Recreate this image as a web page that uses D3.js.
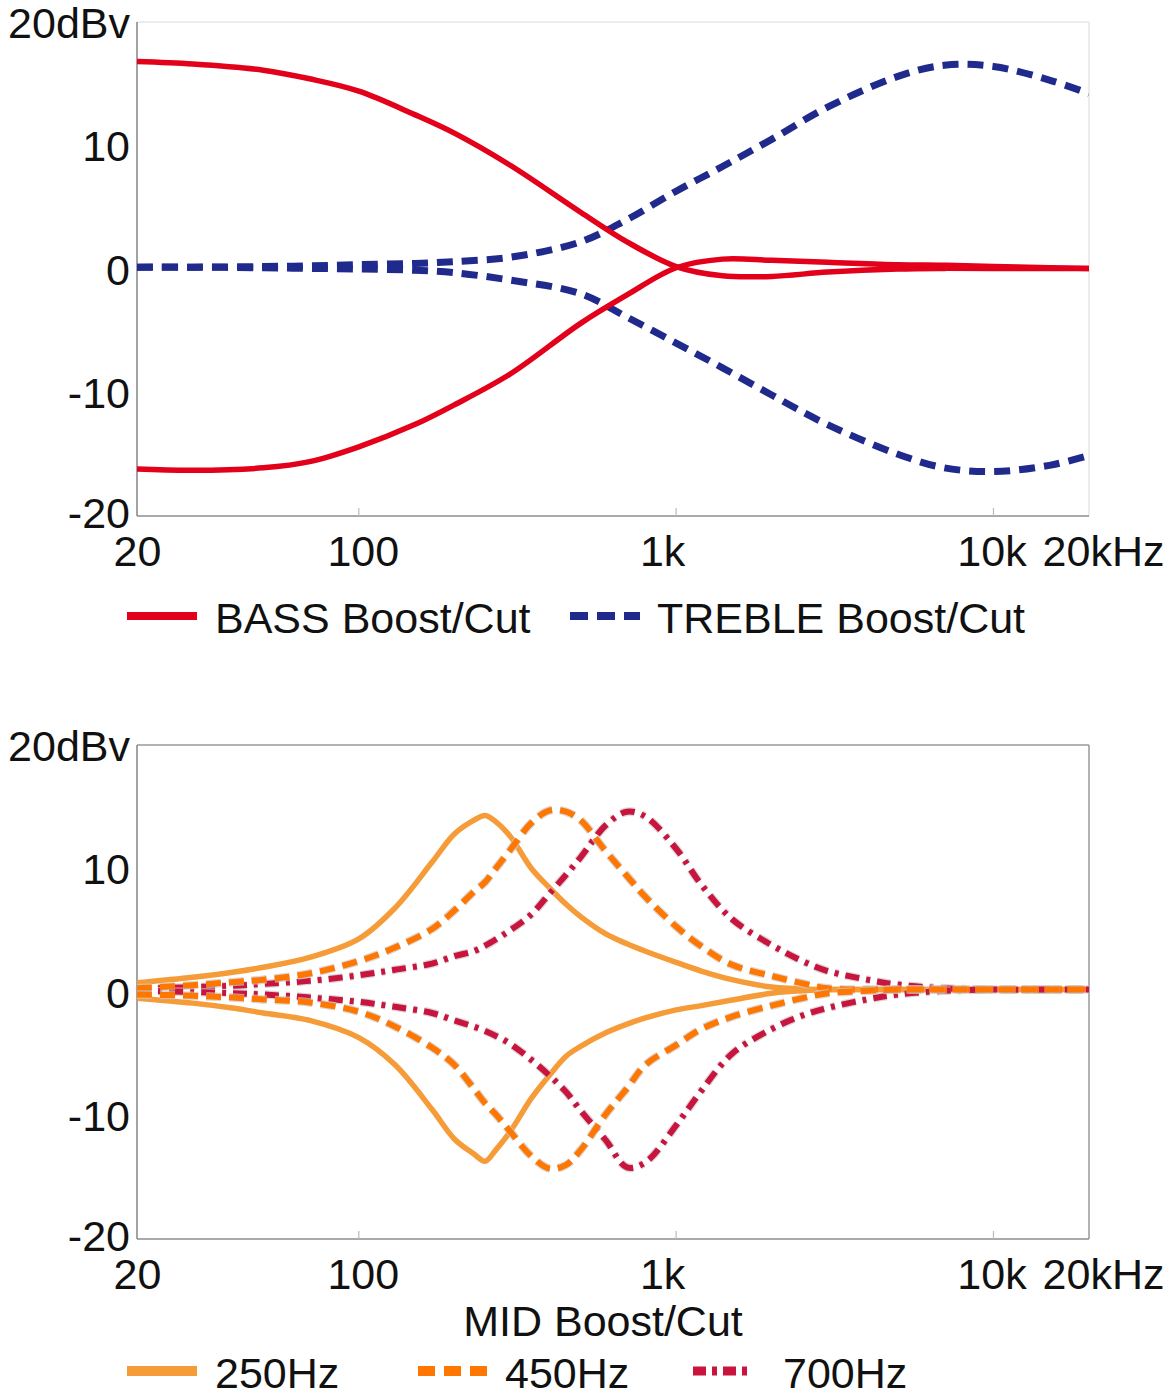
<!DOCTYPE html>
<html>
<head>
<meta charset="utf-8">
<script src="https://cdn.jsdelivr.net/npm/d3@7"></script>
<style>
  body { margin: 0; background: #fff; }
  text { font-family: "Liberation Sans", Arial, Helvetica, sans-serif; fill: #111; }
</style>
</head>
<body>
<svg id="chart" width="1165" height="1400"></svg>
<script>
// axis ticks
let dbTicks = [20, 10, 0, -10, -20];
let dbLabels = ['20dBv', '10', '0', '-10', '-20'];
let hzTicks = [20, 100, 1000, 10000, 20000];
let hzLabels = ['20', '100', '1k', '10k', '20kHz'];

// top panel: bass / treble (dB vs Hz)
let toneFreq = [20, 30, 50, 70, 100, 150, 200, 300, 500, 700, 1000, 1400, 2000, 3000, 5000, 7000, 10000, 15000, 20000];
let bassBoost = [16.8, 16.6, 16.1, 15.4, 14.4, 12.5, 11.0, 8.4, 4.6, 2.2, 0.2, -0.55, -0.6, -0.25, 0.0, 0.05, 0.05, 0.05, 0.05];
let bassCut = [-16.2, -16.3, -16.1, -15.6, -14.4, -12.6, -11.0, -8.5, -4.4, -2.1, 0.1, 0.8, 0.7, 0.55, 0.35, 0.3, 0.2, 0.1, 0.05];
let trebleBoost = [0.15, 0.15, 0.2, 0.25, 0.35, 0.45, 0.6, 0.95, 2.2, 4.0, 6.3, 8.3, 10.5, 13.1, 15.6, 16.5, 16.4, 15.3, 14.2];
let trebleCut = [0.15, 0.15, 0.1, 0.05, 0, -0.1, -0.3, -0.9, -2.0, -3.9, -6.0, -8.0, -10.2, -12.6, -15.0, -16.1, -16.4, -15.9, -15.1];

// bottom panel: mid boost / cut at 250, 450, 700 Hz
let midFreq = [20, 30, 40, 50, 70, 100, 130, 170, 200, 230, 250, 270, 300, 350, 400, 450, 500, 600, 700, 800, 1000, 1200, 1500, 2000, 2500, 3000, 4000, 5000, 7000, 10000, 20000];
let mid250Boost = [0.75, 1.2, 1.6, 2.0, 2.8, 4.3, 6.8, 10.5, 12.8, 13.9, 14.3, 13.8, 12.6, 10.0, 8.4, 7.1, 6.1, 4.7, 3.9, 3.3, 2.4, 1.7, 1.0, 0.4, 0.25, 0.2, 0.2, 0.2, 0.2, 0.2, 0.2];
let mid250Cut = [-0.5, -0.9, -1.3, -1.7, -2.3, -3.7, -5.9, -9.5, -11.9, -13.1, -13.7, -12.8, -11.3, -8.6, -6.7, -5.2, -4.4, -3.3, -2.6, -2.1, -1.45, -1.1, -0.65, -0.1, 0.1, 0.2, 0.2, 0.2, 0.2, 0.2, 0.2];
let mid450Boost = [0.3, 0.55, 0.8, 1.0, 1.5, 2.5, 3.6, 5.1, 6.6, 8.1, 8.9, 10.0, 11.5, 13.7, 14.7, 14.6, 13.9, 11.4, 9.4, 7.7, 5.3, 3.7, 2.2, 1.3, 0.7, 0.3, 0.2, 0.2, 0.2, 0.2, 0.2];
let mid450Cut = [-0.2, -0.3, -0.45, -0.6, -0.85, -1.6, -2.8, -4.5, -5.9, -7.8, -9.0, -9.9, -11.3, -13.3, -14.3, -14.0, -12.8, -9.9, -7.8, -5.9, -4.3, -3.0, -2.0, -1.1, -0.5, -0.1, 0.1, 0.2, 0.2, 0.2, 0.2];
let mid700Boost = [0.25, 0.4, 0.5, 0.65, 0.9, 1.35, 1.8, 2.3, 2.9, 3.3, 3.75, 4.25, 5.0, 6.3, 8.0, 9.5, 10.9, 13.5, 14.6, 14.2, 11.6, 8.7, 5.9, 3.8, 2.5, 1.7, 1.0, 0.6, 0.3, 0.2, 0.2];
let mid700Cut = [0.1, 0, -0.1, -0.2, -0.45, -0.8, -1.2, -1.7, -2.3, -2.8, -3.15, -3.55, -4.2, -5.5, -6.8, -8.1, -9.6, -12.0, -14.2, -13.8, -10.8, -8.0, -5.0, -3.0, -1.9, -1.3, -0.6, -0.2, 0.1, 0.2, 0.2];

const svg = d3.select('#chart');
const plotL = 137, plotR = 1089, plotH = 494;
const x = d3.scaleLog().domain([20, 20000]).range([plotL, plotR]);
let hzShift = [0, 4, -14, -2, 14];
let dbShift = [0, 0, 0, 0, -4];

function drawPanel(id, top, frameTop, series, freq) {
	let y = d3.scaleLinear().domain([-20, 20]).range([top + plotH, top]);
	let g = svg.append('g');

	g.append('clipPath').attr('id', id)
		.append('rect').attr('x', plotL).attr('y', top).attr('width', plotR - plotL).attr('height', plotH);

	// frame
	g.append('line').attr('x1', plotL).attr('x2', plotR).attr('y1', top).attr('y2', top)
		.attr('stroke', frameTop).attr('stroke-width', 1.5);
	g.append('line').attr('x1', plotR).attr('x2', plotR).attr('y1', top).attr('y2', top + plotH)
		.attr('stroke', frameTop).attr('stroke-width', 1.5);
	g.append('line').attr('x1', plotL).attr('x2', plotL).attr('y1', top).attr('y2', top + plotH)
		.attr('stroke', '#8c8c8c').attr('stroke-width', 1.6);
	g.append('line').attr('x1', plotL).attr('x2', plotR).attr('y1', top + plotH).attr('y2', top + plotH)
		.attr('stroke', '#8c8c8c').attr('stroke-width', 1.6);

	// small inner ticks at the decades
	g.selectAll('.dtick').data([100, 1000, 10000]).enter().append('line')
		.attr('x1', d => x(d)).attr('x2', d => x(d))
		.attr('y1', top + plotH).attr('y2', top + plotH - 8)
		.attr('stroke', '#bbb').attr('stroke-width', 1.2);

	let yAxis = g.append('g').attr('transform', `translate(${plotL},0)`)
		.call(d3.axisLeft(y).tickValues(dbTicks).tickFormat((d, i) => dbLabels[i]).tickSize(0).tickPadding(7));
	yAxis.select('.domain').remove();
	yAxis.selectAll('text').attr('font-size', 43).attr('dy', '0.36em')
		.attr('transform', (d, i) => `translate(0,${dbShift[i]})`)
		.style('font-family', '"Liberation Sans", Arial, sans-serif').attr('fill', '#111');

	let xAxis = g.append('g').attr('transform', `translate(0,${top + plotH})`)
		.call(d3.axisBottom(x).tickValues(hzTicks).tickFormat((d, i) => hzLabels[i]).tickSize(0).tickPadding(19));
	xAxis.select('.domain').remove();
	xAxis.selectAll('text').attr('font-size', 43).attr('dx', (d, i) => hzShift[i])
		.style('font-family', '"Liberation Sans", Arial, sans-serif').attr('fill', '#111');

	let line = d3.line()
		.x((d, i) => x(freq[i]))
		.y(d => y(d))
		.curve(d3.curveCatmullRom.alpha(0.5));

	let lines = g.append('g').attr('clip-path', `url(#${id})`);
	series.forEach(s => {
		if (s.halo) {
			lines.append('path').attr('d', line(s.values))
				.attr('fill', 'none').attr('stroke', '#c8c8c8').attr('stroke-opacity', 0.7)
				.attr('stroke-width', s.width + 2.5).attr('stroke-dasharray', s.dash);
		}
		lines.append('path').attr('d', line(s.values))
			.attr('fill', 'none').attr('stroke', s.color)
			.attr('stroke-width', s.width)
			.attr('stroke-dasharray', s.dash || null)
			.attr('stroke-linejoin', 'round');
	});
	return y;
}

const red = '#e2001a', navy = '#1f2a8c';
const orangeLight = '#f59b38', orange = '#ff7600', crimson = '#c9143d';

drawPanel('clipTop', 22, '#e6e6e6', [
	{ values: trebleBoost, color: navy, width: 7, dash: '16,9' },
	{ values: trebleCut, color: navy, width: 7, dash: '16,9' },
	{ values: bassBoost, color: red, width: 5.5 },
	{ values: bassCut, color: red, width: 5.5 }
], toneFreq);

drawPanel('clipMid', 745, '#999', [
	{ values: mid250Boost, color: orangeLight, width: 5.5 },
	{ values: mid250Cut, color: orangeLight, width: 5.5 },
	{ values: mid700Boost, color: crimson, width: 6, dash: '14,7,4,7', halo: true },
	{ values: mid700Cut, color: crimson, width: 6, dash: '14,7,4,7', halo: true },
	{ values: mid450Boost, color: orange, width: 6, dash: '15,8', halo: true },
	{ values: mid450Cut, color: orange, width: 6, dash: '15,8', halo: true }
], midFreq);

// legends
function legendItem(x0, x1, yc, color, width, dash, label, tx) {
	svg.append('line').attr('x1', x0).attr('x2', x1).attr('y1', yc).attr('y2', yc)
		.attr('stroke', color).attr('stroke-width', width).attr('stroke-dasharray', dash || null);
	svg.append('text').attr('x', tx).attr('y', yc + 17).attr('font-size', 43).text(label);
}

legendItem(127, 197, 616, red, 8, null, 'BASS Boost/Cut', 215);
legendItem(570, 640, 616, navy, 8, '18,9', 'TREBLE Boost/Cut', 657);

svg.append('text').attr('x', 603).attr('y', 1336).attr('text-anchor', 'middle')
	.attr('font-size', 43).text('MID Boost/Cut');

legendItem(127, 197, 1371, orangeLight, 10, null, '250Hz', 215);
legendItem(418, 490, 1371, orange, 10, '17,9', '450Hz', 505);
legendItem(693, 752, 1371, crimson, 9, '13,6,5,6', '700Hz', 783);
</script>
</body>
</html>
